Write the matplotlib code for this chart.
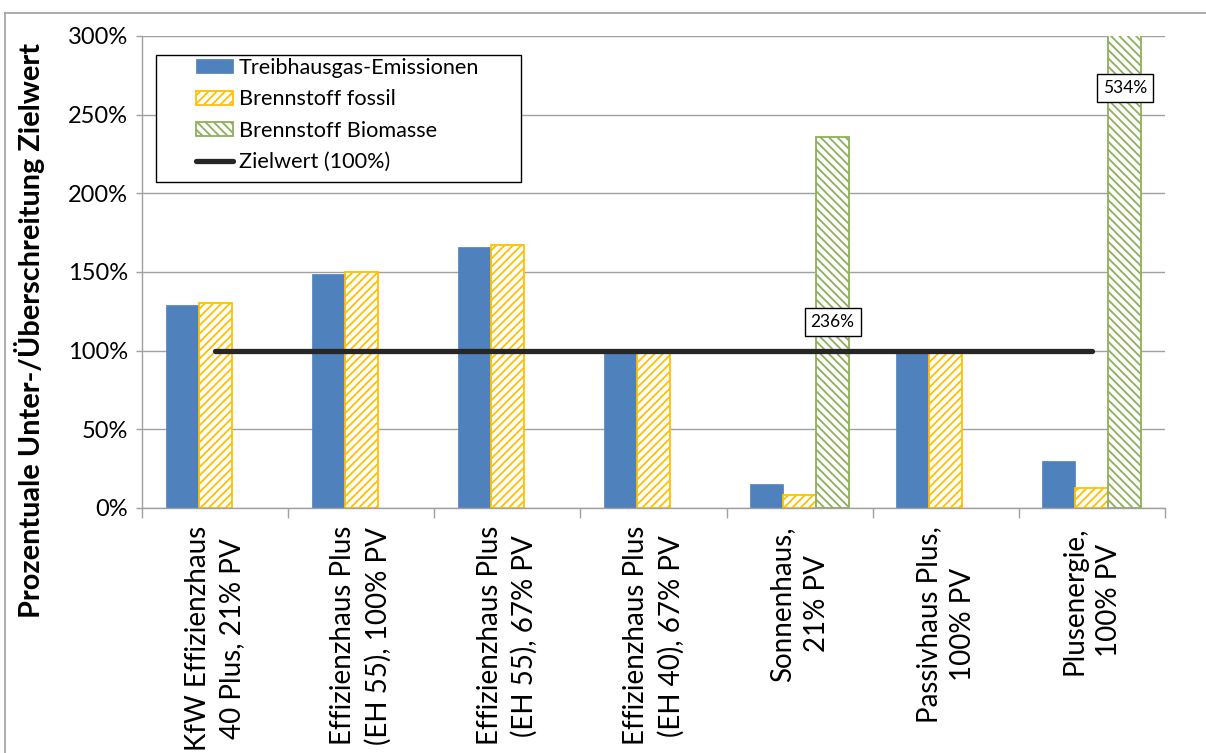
import numpy as np
import matplotlib
matplotlib.use("Agg")
import matplotlib.pyplot as plt
from matplotlib.patches import Rectangle, Patch
from matplotlib.lines import Line2D
from matplotlib.ticker import FuncFormatter, MultipleLocator, FixedLocator

# --- Daten ---
kategorien = [
    "KfW Effizienzhaus\n40 Plus, 21% PV",
    "Effizienzhaus Plus\n(EH 55), 100% PV",
    "Effizienzhaus Plus\n(EH 55), 67% PV",
    "Effizienzhaus Plus\n(EH 40), 67% PV",
    "Sonnenhaus,\n21% PV",
    "Passivhaus Plus,\n100% PV",
    "Plusenergie,\n100% PV",
]
thg_emissionen = [129, 149, 166, 99, 15, 99, 30]
brennstoff_fossil = [130, 150, 167, 99, 8, 99, 13]
brennstoff_biomasse = [0, 0, 0, 0, 236, 0, 534]
zielwert = [100, 100, 100, 100, 100, 100, 100]

# --- Farben ---
BLAU = '#4F81BD'
GELB = '#FFC000'
GRUEN = '#8FB05A'
GRAU = '#A0A0A0'
SCHWARZ = '#262626'

plt.rcParams['font.family'] = ['Lato', 'DejaVu Sans']
plt.rcParams['hatch.linewidth'] = 1.3

fig = plt.figure(figsize=(12.06, 7.53), dpi=100)
ax = fig.add_axes([142 / 1206, 1 - 508 / 753, 1023 / 1206, 472 / 753])

x = np.arange(len(kategorien))
w = 0.226

stil_thg = dict(facecolor=BLAU, edgecolor=BLAU, linewidth=0.5)
stil_fossil = dict(facecolor='white', edgecolor=GELB, hatch='////', linewidth=1.3)
stil_bio = dict(facecolor='white', edgecolor=GRUEN, hatch='\\\\\\\\', linewidth=1.3)

b1 = ax.bar(x - w, thg_emissionen, w, zorder=2, **stil_thg)
b2 = ax.bar(x, brennstoff_fossil, w, zorder=2, **stil_fossil)
b3 = ax.bar(x + w, brennstoff_biomasse, w, zorder=2, **stil_bio)
# leere Balken ohne Rand
for bars in (b1, b2, b3):
    for p in bars:
        if p.get_height() == 0:
            p.set_visible(False)

linie, = ax.plot(x, zielwert, color=SCHWARZ, linewidth=3.8,
                 solid_capstyle='round', zorder=3)

# Werte der Biomasse-Balken (Beschriftung frei platziert)
for i, yy in [(4, 118), (6, 267)]:
    ax.text(x[i] + w, yy, f"{brennstoff_biomasse[i]}%", ha='center', va='center',
            fontsize=12.5, zorder=4,
            bbox=dict(boxstyle='square,pad=0.35', facecolor='white',
                      edgecolor='black', linewidth=1))

ax.set_xlim(-0.5, len(kategorien) - 0.5)
ax.set_ylim(0, 300)
ax.yaxis.set_major_locator(MultipleLocator(50))
ax.yaxis.set_major_formatter(FuncFormatter(lambda v, p: f"{v:.0f}%"))
ax.grid(axis='y', color=GRAU, linewidth=1.0, zorder=0)
ax.set_axisbelow(True)

ax.set_xticks(x)
ax.set_xticklabels(kategorien, rotation=90, ha='center', va='top',
                   multialignment='center', linespacing=1.4)
ax.xaxis.set_minor_locator(FixedLocator(np.arange(-0.5, len(kategorien), 1.0)))
ax.tick_params(axis='x', which='major', length=0, pad=13, labelsize=20)
ax.tick_params(axis='x', which='minor', length=7, width=1.0, color=GRAU)
ax.tick_params(axis='y', length=4, width=1.0, color=GRAU, pad=6, labelsize=17)

for s in ['top', 'right']:
    ax.spines[s].set_visible(False)
for s in ['left', 'bottom']:
    ax.spines[s].set_color(GRAU)
    ax.spines[s].set_linewidth(1.0)

fig.text(30 / 1206, 1 - 330 / 753, "Prozentuale Unter-/Überschreitung Zielwert",
         rotation=90, ha='center', va='center', fontsize=20.8, fontweight='bold')

# Legende mit eigenem Rahmen
fig.patches.append(Rectangle((156 / 1206, 1 - 182 / 753), 365 / 1206, 127 / 753,
                             transform=fig.transFigure, facecolor='white',
                             edgecolor='black', linewidth=1.0, zorder=5))
handles = [Patch(**stil_thg), Patch(**stil_fossil), Patch(**stil_bio),
           Line2D([], [], color=SCHWARZ, linewidth=3.8, solid_capstyle='round')]
labels = ["Treibhausgas-Emissionen", "Brennstoff fossil", "Brennstoff Biomasse",
          "Zielwert (100%)"]
leg = fig.legend(handles, labels, loc='upper left',
                 bbox_to_anchor=(196 / 1206, 1 - 58 / 753), frameon=False,
                 fontsize=15.6, handlelength=1.72, handleheight=0.6,
                 handletextpad=0.25, labelspacing=0.52, borderpad=0,
                 borderaxespad=0)
leg.set_zorder(6)

# äußerer Diagrammrahmen
fig.add_artist(Line2D([5 / 1206, 5 / 1206], [0, 1 - 13 / 753],
                      transform=fig.transFigure, color=GRAU, linewidth=1.2))
fig.add_artist(Line2D([5 / 1206, 1], [1 - 13 / 753, 1 - 13 / 753],
                      transform=fig.transFigure, color=GRAU, linewidth=1.2))

fig.savefig('out.png', dpi=100)
